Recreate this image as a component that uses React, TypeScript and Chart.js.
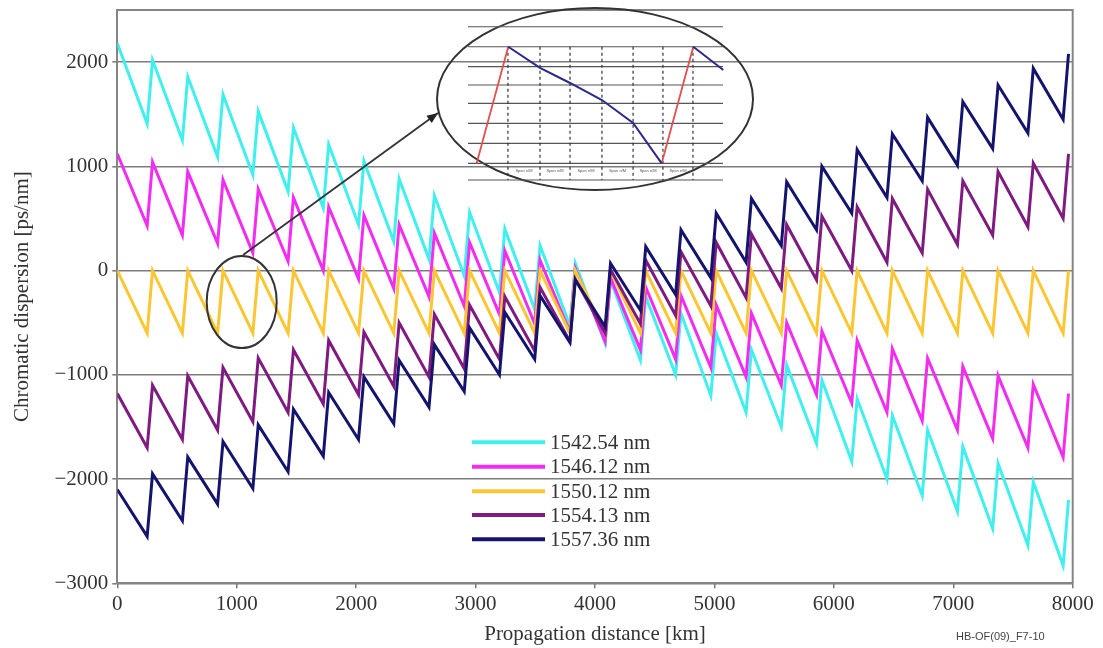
import React, { useEffect, useRef } from "react";
import { Chart, registerables } from "chart.js";

Chart.register(...registerables);

// ---- Data ----
const peakKm = [0, 295, 590, 885, 1180, 1475, 1770, 2065, 2360, 2655, 2950, 3245, 3540, 3835, 4130, 4425, 4720, 5015, 5310, 5605, 5900, 6195, 6490, 6785, 7080, 7375, 7670, 7965];
const troughKm = [250, 545, 840, 1135, 1430, 1725, 2020, 2315, 2610, 2905, 3200, 3495, 3790, 4085, 4380, 4675, 4970, 5265, 5560, 5855, 6150, 6445, 6740, 7035, 7330, 7625, 7920];

const seriesLabels = ["1542.54 nm", "1546.12 nm", "1550.12 nm", "1554.13 nm", "1557.36 nm"];
const seriesColors = ["#3ff0ee", "#f22cf0", "#fcc633", "#7e1a80", "#14146e"];

const cyanPeaks = [2180, 2020, 1860, 1690, 1530, 1370, 1210, 1050, 880, 720, 560, 400, 240, 70, -90, -250, -410, -600, -760, -905, -1050, -1230, -1390, -1530, -1690, -1850, -2025, -2200];
const cyanTroughs = [1410, 1250, 1090, 920, 760, 600, 440, 280, 110, -50, -210, -370, -530, -700, -860, -1000, -1200, -1360, -1500, -1660, -1830, -2000, -2160, -2310, -2475, -2635, -2830];

const magentaPeaks = [1120, 1040, 950, 870, 780, 700, 610, 530, 440, 360, 270, 190, 100, 20, -70, -160, -240, -330, -410, -500, -580, -670, -750, -840, -920, -1010, -1090, -1180];
const magentaTroughs = [430, 340, 260, 170, 90, 0, -80, -170, -250, -340, -420, -510, -590, -680, -760, -850, -930, -1020, -1100, -1190, -1270, -1360, -1440, -1530, -1610, -1700, -1790];

const yellowPeaks = [0, 0, 0, 0, 0, 0, 0, 0, 0, 0, 0, 0, 0, 0, 0, 0, 0, 0, 0, 0, 0, 0, 0, 0, 0, 0, 0, 0];
const yellowTroughs = [-600, -600, -600, -600, -600, -600, -600, -600, -600, -600, -600, -600, -600, -600, -600, -600, -600, -600, -600, -600, -600, -600, -600, -600, -600, -600, -600];

const purplePeaks = [-1180, -1100, -1010, -930, -840, -760, -670, -590, -500, -420, -330, -250, -160, -80, 10, 100, 180, 270, 350, 440, 520, 610, 690, 780, 860, 950, 1030, 1120];
const purpleTroughs = [-1700, -1620, -1530, -1450, -1360, -1280, -1190, -1110, -1020, -940, -850, -770, -680, -600, -510, -430, -340, -260, -170, -90, 0, 80, 170, 250, 340, 420, 500];

const navyPeaks = [-2100, -1950, -1790, -1640, -1480, -1330, -1170, -1020, -860, -710, -550, -400, -240, -90, 70, 230, 390, 550, 690, 850, 1000, 1160, 1310, 1470, 1620, 1780, 1940, 2080];
const navyTroughs = [-2550, -2400, -2240, -2090, -1930, -1780, -1620, -1470, -1310, -1160, -1000, -850, -690, -540, -380, -230, -70, 80, 240, 390, 550, 700, 860, 1010, 1170, 1320, 1450];

const xTickValues = [0, 1000, 2000, 3000, 4000, 5000, 6000, 7000, 8000];
const yTickValues = [-3000, -2000, -1000, 0, 1000, 2000];
const xMin = 0, xMax = 8000;
const yMin = -3000, yMax = 2500;

const FONT = "'Liberation Serif', 'Times New Roman', serif";
const FS = 21;

function sawtooth(peaks: number[], troughs: number[]) {
  const pts: { x: number; y: number }[] = [];
  for (let i = 0; i < peaks.length; i++) {
    pts.push({ x: peakKm[i], y: peaks[i] });
    if (i < troughs.length) pts.push({ x: troughKm[i], y: troughs[i] });
  }
  return pts;
}

// reference layout of the plot frame (for annotation placement)
const REF = { left: 117.3, top: 10, width: 955.4, height: 573.3 };

const decorPlugin = {
  id: "decor",
  beforeDatasetsDraw(chart: any) {
    const { ctx, chartArea: ca } = chart;
    ctx.save();
    ctx.strokeStyle = "#858585";
    ctx.lineWidth = 2;
    ctx.beginPath();
    ctx.moveTo(ca.left, ca.top);
    ctx.lineTo(ca.right, ca.top);
    ctx.lineTo(ca.right, ca.bottom);
    ctx.stroke();
    ctx.restore();
  },
  afterDraw(chart: any) {
    const { ctx, chartArea: ca } = chart;
    const fx = (px: number) => ca.left + ((px - REF.left) * ca.width) / REF.width;
    const fy = (py: number) => ca.top + ((py - REF.top) * ca.height) / REF.height;
    ctx.save();

    // ---- legend ----
    const rows = [442.3, 466.7, 491.3, 515, 539.3];
    chart.data.datasets.forEach((ds: any, i: number) => {
      const y = fy(rows[i]);
      ctx.strokeStyle = ds.borderColor;
      ctx.lineWidth = 4;
      ctx.beginPath();
      ctx.moveTo(fx(472), y);
      ctx.lineTo(fx(545), y);
      ctx.stroke();
      ctx.fillStyle = "#333";
      ctx.font = `${FS}px ${FONT}`;
      ctx.textBaseline = "middle";
      ctx.textAlign = "left";
      ctx.fillText(ds.label, fx(550), y + 1);
    });

    // ---- small ellipse ----
    ctx.strokeStyle = "#333";
    ctx.lineWidth = 2;
    ctx.beginPath();
    ctx.ellipse(fx(241.7), fy(302), 35, 46, 0, 0, Math.PI * 2);
    ctx.stroke();

    // ---- big ellipse ----
    const cx = fx(595), cy = fy(99), rx = 158, ry = 91;
    ctx.beginPath();
    ctx.ellipse(cx, cy, rx, ry, 0, 0, Math.PI * 2);
    ctx.stroke();

    // ---- arrow ----
    const ax0 = fx(243), ay0 = fy(255), ax1 = fx(438), ay1 = fy(113);
    ctx.lineWidth = 1.8;
    ctx.beginPath();
    ctx.moveTo(ax0, ay0);
    ctx.lineTo(ax1, ay1);
    ctx.stroke();
    const ang = Math.atan2(ay1 - ay0, ax1 - ax0);
    ctx.fillStyle = "#222";
    ctx.beginPath();
    ctx.moveTo(ax1, ay1);
    ctx.lineTo(ax1 - 11 * Math.cos(ang) + 4.5 * Math.sin(ang), ay1 - 11 * Math.sin(ang) - 4.5 * Math.cos(ang));
    ctx.lineTo(ax1 - 11 * Math.cos(ang) - 4.5 * Math.sin(ang), ay1 - 11 * Math.sin(ang) + 4.5 * Math.cos(ang));
    ctx.closePath();
    ctx.fill();

    // ---- inset mini chart (relative to big ellipse) ----
    const ix = (u: number) => cx + u * rx;
    const iy = (v: number) => cy + v * ry;
    const hl = [-0.794, -0.574, -0.355, -0.154, 0.047, 0.267, 0.487, 0.707, 0.89];
    ctx.strokeStyle = "#555";
    ctx.lineWidth = 1.2;
    hl.forEach((v) => {
      ctx.beginPath();
      ctx.moveTo(ix(-0.804), iy(v));
      ctx.lineTo(ix(0.81), iy(v));
      ctx.stroke();
    });
    const vl = [-0.551, -0.348, -0.158, 0.044, 0.241, 0.43, 0.62];
    ctx.setLineDash([3, 3]);
    ctx.strokeStyle = "#333";
    vl.forEach((u) => {
      ctx.beginPath();
      ctx.moveTo(ix(u), iy(-0.574));
      ctx.lineTo(ix(u), iy(0.89));
      ctx.stroke();
    });
    ctx.setLineDash([]);
    // tiny labels
    ctx.fillStyle = "#555";
    ctx.font = "4px 'Liberation Sans', sans-serif";
    ctx.textAlign = "center";
    ctx.textBaseline = "middle";
    for (let k = 0; k < vl.length - 1; k++) {
      ctx.fillText("Span n/M", ix((vl[k] + vl[k + 1]) / 2), iy(0.79));
    }
    // red rising lines
    ctx.strokeStyle = "#e0504e";
    ctx.lineWidth = 1.8;
    [[-0.749, -0.549], [0.422, 0.622]].forEach(([u0, u1]) => {
      ctx.beginPath();
      ctx.moveTo(ix(u0), iy(0.707));
      ctx.lineTo(ix(u1), iy(-0.574));
      ctx.stroke();
    });
    // blue falling lines
    ctx.strokeStyle = "#2a2a8a";
    ctx.lineWidth = 2;
    const blue = [[-0.549, -0.574], [-0.348, -0.342], [-0.158, -0.176], [0.044, 0.011], [0.241, 0.264], [0.422, 0.707]];
    ctx.beginPath();
    blue.forEach(([u, v], k) => (k ? ctx.lineTo(ix(u), iy(v)) : ctx.moveTo(ix(u), iy(v))));
    ctx.stroke();
    ctx.beginPath();
    ctx.moveTo(ix(0.622), iy(-0.574));
    ctx.lineTo(ix(0.812), iy(-0.319));
    ctx.stroke();

    // ---- figure id ----
    ctx.fillStyle = "#444";
    ctx.font = "11px 'Liberation Sans', Arial, sans-serif";
    ctx.textAlign = "left";
    ctx.textBaseline = "middle";
    ctx.fillText("HB-OF(09)_F7-10", 956, 637);
    ctx.restore();
  },
};

const fmt = (v: any) => {
  const n = Number(v);
  return n < 0 ? "\u2212" + Math.abs(n) : String(n);
};

export default function App() {
  const ref = useRef<HTMLCanvasElement>(null);
  useEffect(() => {
    const all = [
      [cyanPeaks, cyanTroughs],
      [magentaPeaks, magentaTroughs],
      [yellowPeaks, yellowTroughs],
      [purplePeaks, purpleTroughs],
      [navyPeaks, navyTroughs],
    ];
    const datasets = all.map(([p, t], i) => ({
      label: seriesLabels[i],
      data: sawtooth(p, t),
      borderColor: seriesColors[i],
      backgroundColor: seriesColors[i],
      borderWidth: 3,
      pointRadius: 0,
      tension: 0,
      fill: false,
      borderJoinStyle: "miter" as const,
      order: 4 - i,
    }));
    const chart = new Chart(ref.current!, {
      type: "line",
      data: { datasets },
      options: {
        animation: false,
        responsive: false,
        devicePixelRatio: 1,
        layout: { padding: { top: 10, right: 30.3, left: 0, bottom: 0 } },
        plugins: { legend: { display: false }, tooltip: { enabled: false } },
        scales: {
          x: {
            type: "linear",
            min: xMin,
            max: xMax,
            afterBuildTicks: (s: any) => {
              s.ticks = xTickValues.map((v) => ({ value: v }));
            },
            ticks: { color: "#333", font: { family: FONT, size: FS }, padding: 4, maxRotation: 0, autoSkip: false, callback: fmt },
            grid: { drawOnChartArea: false, drawTicks: true, tickLength: 5, color: "#777", lineWidth: 1.5 },
            border: { color: "#858585", width: 2 },
            title: { display: true, text: "Propagation distance [km]", color: "#333", font: { family: FONT, size: FS }, padding: { top: 0, bottom: 1 } },
            afterFit: (s: any) => {
              s.height = 64.7;
              s.paddingLeft = 0;
              s.paddingRight = 0;
            },
          },
          y: {
            min: yMin,
            max: yMax,
            afterBuildTicks: (s: any) => {
              s.ticks = yTickValues.map((v) => ({ value: v }));
            },
            ticks: { color: "#333", font: { family: FONT, size: FS }, padding: 4, autoSkip: false, callback: fmt },
            grid: { color: "#7d7d7d", lineWidth: 1.6, tickLength: 5 },
            border: { color: "#858585", width: 2 },
            title: { display: true, text: "Chromatic dispersion [ps/nm]", color: "#333", font: { family: FONT, size: FS }, padding: { top: 10, bottom: 0 } },
            afterFit: (s: any) => {
              s.width = 117.3;
              s.paddingTop = 0;
              s.paddingBottom = 0;
            },
          },
        },
      },
      plugins: [decorPlugin],
    });
    return () => chart.destroy();
  }, []);
  return (
    <div style={{ position: "absolute", left: 0, top: 0, width: 1103, height: 648, background: "#fff" }}>
      <canvas ref={ref} width={1103} height={648} style={{ display: "block" }} />
    </div>
  );
}
